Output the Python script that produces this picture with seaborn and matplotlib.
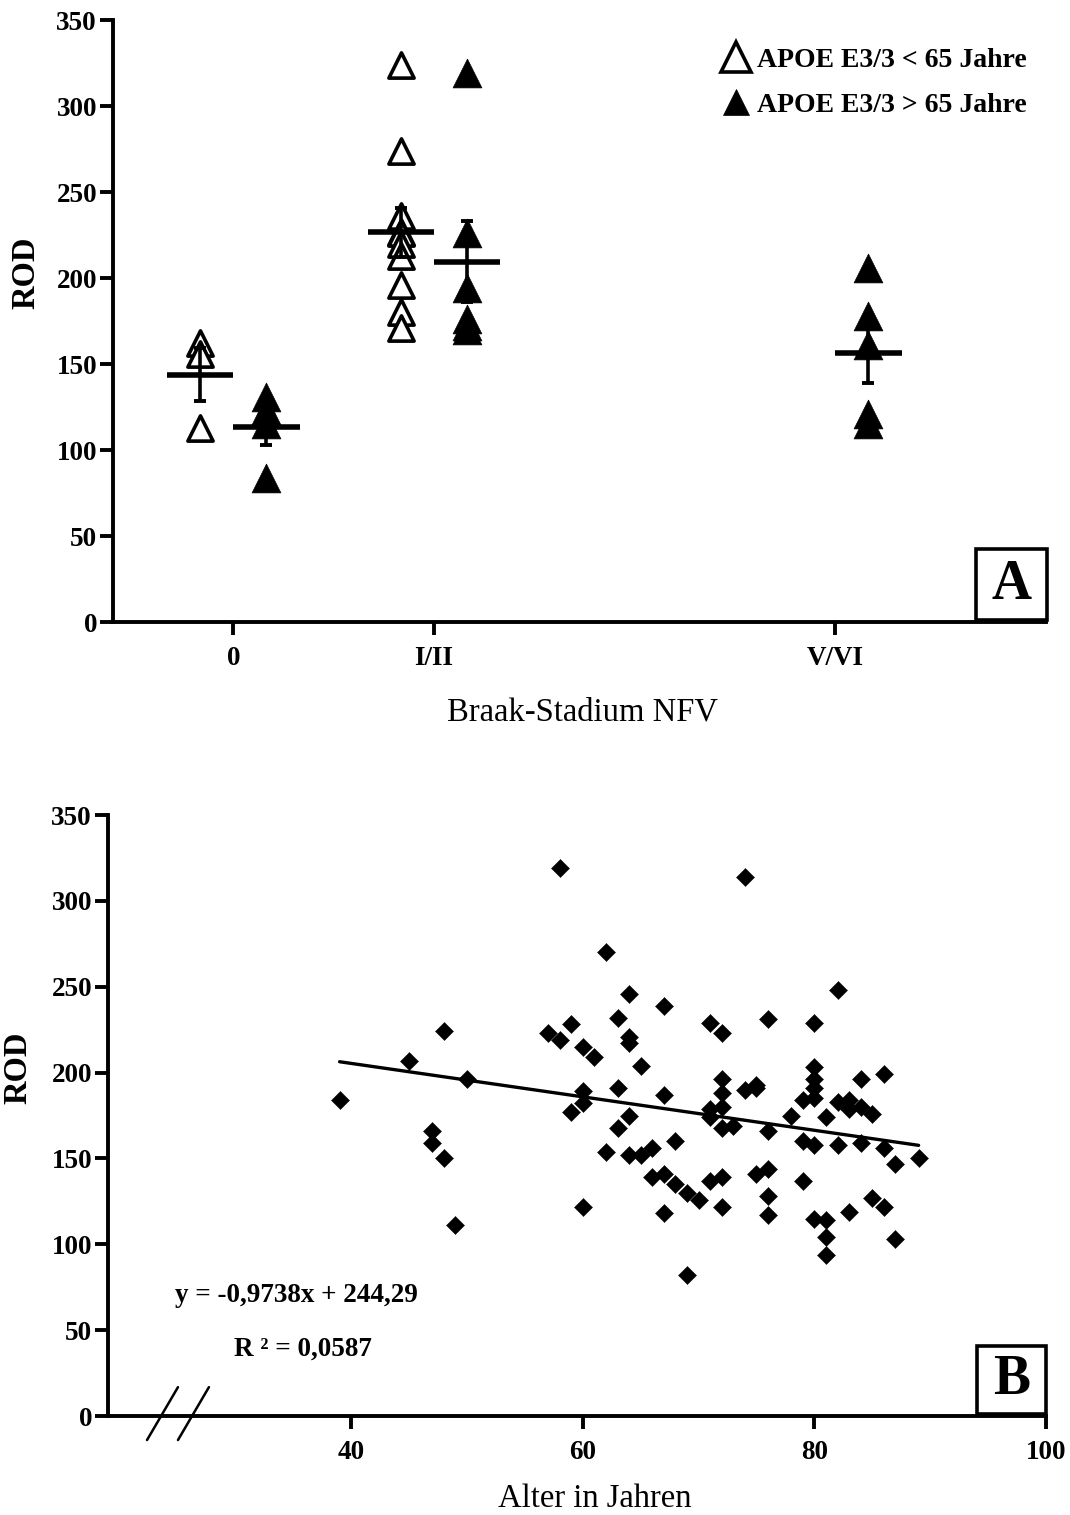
import numpy as np
import pandas as pd
import matplotlib
matplotlib.use("Agg")
import matplotlib.pyplot as plt
from matplotlib.lines import Line2D
from matplotlib.patches import Rectangle
import seaborn as sns

# ---------------- Panel A: ROD by Braak stage (NFV), APOE E3/3 ----------------
stage_labels = ["0", "I/II", "V/VI"]
stage_pos = [0, 1, 3]          # stage III/IV has no cases and stays an empty gap

young_stage = ["0"] * 3 + ["I/II"] * 10
young_rod = [162, 156, 113,
             324, 274, 236, 227, 226, 220, 213, 196, 180, 171]

old_stage = ["0"] * 4 + ["I/II"] * 6 + ["V/VI"] * 5
old_rod = [131, 123, 115, 84,
           319, 226, 194, 176, 172, 170,
           206, 178, 161, 121, 115]

group_labels = ["APOE E3/3 < 65 Jahre", "APOE E3/3 > 65 Jahre"]

# ---------------- Panel B: ROD vs. age ----------------
age = [39, 45, 47, 47, 48, 48, 49, 50, 57, 58, 58, 59, 59, 60, 60, 60, 60, 61,
       62, 62, 63, 63, 63, 64, 64, 64, 64, 64, 65, 65, 66, 66, 67, 67, 67, 67,
       68, 68, 69, 69, 70, 71, 71, 71, 71, 72, 72, 72, 72, 72, 72, 72, 73, 74,
       74, 75, 75, 75, 76, 76, 76, 76, 76, 78, 79, 79, 79, 80, 80, 80, 80, 80,
       80, 80, 81, 81, 81, 81, 82, 82, 82, 83, 83, 83, 84, 84, 84, 85, 85, 86,
       86, 86, 87, 87, 89]
rod = [184, 207, 166, 159, 224, 150, 111, 196, 223, 319, 219, 228, 177, 215,
       189, 182, 122, 209, 270, 154, 232, 191, 168, 246, 221, 217, 175, 152,
       204, 152, 156, 139, 239, 187, 141, 118, 160, 135, 130, 82, 126, 229,
       179, 174, 137, 223, 196, 188, 180, 168, 139, 122, 169, 314, 190, 193,
       191, 141, 231, 166, 144, 128, 117, 175, 184, 160, 137, 229, 203, 196,
       191, 185, 158, 115, 174, 114, 104, 94, 248, 183, 158, 184, 179, 119,
       196, 180, 159, 176, 127, 199, 156, 122, 147, 103, 150]

slope, intercept, r_squared = -0.9738, 244.29, 0.0587

# ---------------- style ----------------
sns.set_theme(style="ticks")
plt.rcParams["font.family"] = ["Liberation Serif", "DejaVu Serif"]
plt.rcParams["axes.linewidth"] = 2.8
plt.rcParams["xtick.major.width"] = 2.8
plt.rcParams["ytick.major.width"] = 2.8
plt.rcParams["xtick.major.size"] = 9.5
plt.rcParams["ytick.major.size"] = 9.5
for key in ["axes.edgecolor", "xtick.color", "ytick.color", "text.color",
            "axes.labelcolor", "xtick.labelcolor", "ytick.labelcolor"]:
    plt.rcParams[key] = "black"

TICK_FS = 19.5
LABEL_FS = 23.5

fig = plt.figure(figsize=(10.7, 15.15), dpi=100)
fig.patch.set_facecolor("white")

W, H = 1070.0, 1515.0
axA = fig.add_axes([113 / W, 1 - 622 / H, 933 / W, 602 / H])
axB = fig.add_axes([108 / W, 1 - 1416 / H, 938 / W, 601 / H])


def style_axis(ax):
    sns.despine(ax=ax)
    ax.set_facecolor("white")
    ax.grid(False)
    for lab in ax.get_xticklabels() + ax.get_yticklabels():
        lab.set_fontweight("bold")
        lab.set_fontsize(TICK_FS)
        lab.set_color("black")
    ax.tick_params(axis="y", pad=2)
    ax.tick_params(axis="x", pad=8)


def panel_letter(ax, letter, x0, y0, w, h):
    ax.add_patch(Rectangle((x0, y0), w, h, transform=ax.transAxes,
                           facecolor="white", edgecolor="black", lw=2.6,
                           clip_on=False, zorder=6))
    ax.text(x0 + w / 2, y0 + h / 2, letter, transform=ax.transAxes,
            ha="center", va="center", fontsize=40, fontweight="bold",
            color="black", zorder=7)


# ---------------- Panel A drawing ----------------
pos_map = dict(zip(stage_labels, stage_pos))
dodge = 0.165
dfA = pd.concat([
    pd.DataFrame({"stage": young_stage, "rod": young_rod, "group": group_labels[0]}),
    pd.DataFrame({"stage": old_stage, "rod": old_rod, "group": group_labels[1]}),
], ignore_index=True)
dfA["offset"] = np.where(dfA["group"] == group_labels[0], -dodge, dodge)
dfA["x"] = dfA["stage"].map(pos_map) + dfA["offset"]

young = dfA[dfA["group"] == group_labels[0]]
old = dfA[dfA["group"] == group_labels[1]]

sns.scatterplot(data=young, x="x", y="rod", marker="^", s=330,
                facecolor="white", edgecolor="black", linewidth=2.6,
                ax=axA, zorder=3, legend=False)
sns.scatterplot(data=old, x="x", y="rod", marker="^", s=430,
                facecolor="black", edgecolor="black", linewidth=0.5,
                ax=axA, zorder=3, legend=False)

# mean and SEM per group and stage
summary = dfA.groupby(["group", "stage"]).agg(
    x=("x", "first"), mean=("rod", "mean"), sem=("rod", "sem")).reset_index()
half = 0.165
axA.hlines(summary["mean"], summary["x"] - half, summary["x"] + half,
           colors="black", lw=4.0, zorder=4)
axA.errorbar(summary["x"], summary["mean"], yerr=summary["sem"], fmt="none",
             ecolor="black", elinewidth=2.6, capsize=4.5, capthick=2.8,
             zorder=4)

axA.set_xlim(-0.6, 4.05)
axA.set_ylim(0, 350)
axA.set_xticks(stage_pos)
axA.set_xticklabels(stage_labels)
axA.set_yticks(np.arange(0, 351, 50))
axA.set_xlabel("Braak-Stadium NFV", fontsize=LABEL_FS, color="black")
axA.set_ylabel("ROD", fontsize=LABEL_FS, fontweight="bold", color="black")
axA.xaxis.set_label_coords(0.503, -0.125)
axA.yaxis.set_label_coords(-0.077, 0.58)
style_axis(axA)

handles = [
    Line2D([], [], ls="none", marker="^", markersize=21, mfc="white",
           mec="black", mew=2.6),
    Line2D([], [], ls="none", marker="^", markersize=19, mfc="black",
           mec="black", mew=0.5),
]
leg = axA.legend(handles, group_labels, loc="upper left",
                 bbox_to_anchor=(0.650, 0.955), frameon=False,
                 borderpad=0, handlelength=1.2, handletextpad=0.15,
                 labelspacing=0.72, borderaxespad=0,
                 prop={"family": "Liberation Serif", "weight": "bold",
                       "size": 20})
for t in leg.get_texts():
    t.set_color("black")

panel_letter(axA, "A", 0.925, 0.003, 0.076, 0.118)

# ---------------- Panel B drawing ----------------
dfB = pd.DataFrame({"age": age, "rod": rod})
sns.scatterplot(data=dfB, x="age", y="rod", marker="D", s=85,
                color="black", edgecolor="black", linewidth=0.3,
                ax=axB, zorder=3, legend=False)

fit_x = np.array([dfB["age"].min(), dfB["age"].max()], dtype=float)
sns.lineplot(x=fit_x, y=slope * fit_x + intercept, color="black", lw=2.4,
             ax=axB, zorder=2)

axB.set_xlim(19, 100)
axB.set_ylim(0, 350)
axB.set_xticks([40, 60, 80, 100])
axB.set_yticks(np.arange(0, 351, 50))
axB.set_xlabel("Alter in Jahren", fontsize=LABEL_FS, color="black")
axB.set_ylabel("ROD", fontsize=LABEL_FS, fontweight="bold", color="black")
axB.xaxis.set_label_coords(0.519, -0.112)
axB.yaxis.set_label_coords(-0.080, 0.579)
style_axis(axB)

# axis break on the age axis
for x0 in (0.0416, 0.0746):
    axB.plot([x0, x0 + 0.033], [-0.04, 0.048], transform=axB.transAxes,
             color="black", lw=1.8, clip_on=False, zorder=5)

axB.text(0.0714, 0.20, "y = -0,9738x + 244,29", transform=axB.transAxes,
         ha="left", va="center", fontsize=19.5, fontweight="bold")
axB.text(0.134, 0.111, "R \u00b2 = 0,0587",
         transform=axB.transAxes, ha="left", va="center", fontsize=19.5,
         fontweight="bold")

panel_letter(axB, "B", 0.926, 0.003, 0.074, 0.113)

fig.savefig("out.png", dpi=100, facecolor="white")
